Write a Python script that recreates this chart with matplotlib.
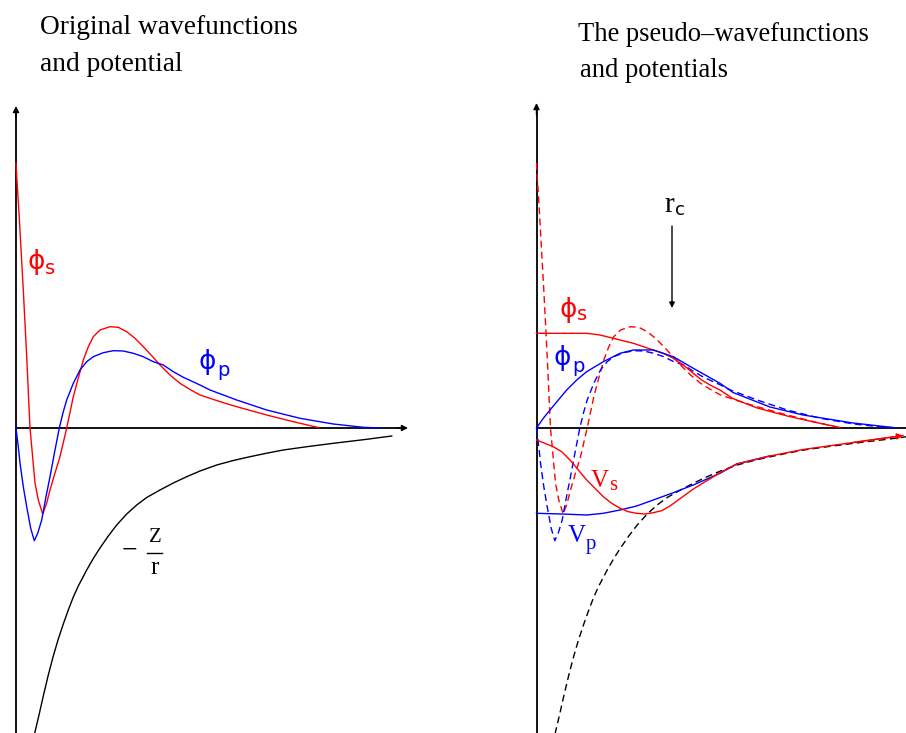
import matplotlib
matplotlib.use("Agg")
import matplotlib.pyplot as plt

# ---------------------------------------------------------------
# Curve samples (r, value) in arbitrary schematic units.
# r = 0 is the nucleus; value = 0 is the r axis.
# ---------------------------------------------------------------

# All-electron (original) radial functions
r_phi_s = [0, 0.8, 3, 7.3, 10.7, 14, 19, 22.3, 26.7, 30.7, 34, 39, 44, 50.7,
           57.3, 62.3, 67.3, 72.3, 77.3, 84, 94, 102.3, 110.7, 119, 127.3,
           135.7, 144, 154, 164, 174, 184, 194, 207.3, 220.7, 250.7, 277.3,
           302.3]
v_phi_s = [265, 250, 215, 138, 71.3, 0, -55, -72, -86, -75, -62, -45, -28.7,
           0, 31.3, 50, 68, 81.3, 91.3, 98, 101.3, 100.7, 96.3, 89.7, 81.3,
           72.3, 63, 53, 44.7, 38.5, 33, 29.7, 25.3, 21.3, 13, 6.3,
           0.5]

r_phi_p = [0, 2.3, 4, 7.3, 10.7, 14.7, 18.3, 21.7, 25.7, 29.7, 34, 39, 43.3,
           47.3, 50.7, 57.3, 64, 70.7, 77.3, 87.3, 97.3, 107.3, 117.3, 127.3,
           137.3, 147.3, 157.3, 167.3, 184, 194, 220.7, 250.7, 284, 317.3,
           347.3, 364]
v_phi_p = [0, -18.7, -35, -58.7, -78.7, -100.3, -112.7, -105.3, -92, -70.3,
           -48.7, -22, 0, 16.3, 28, 44.7, 58, 66.3, 71.3, 75.3, 77.3, 77, 74.7,
           71.3, 66.3, 63, 56.3, 50.7, 43, 38, 28, 18, 9.7, 4,
           0.7, 0]

# bare Coulomb potential -Z/r
r_coul = [18.5, 23, 27.3, 32.3, 37.3, 42.3, 47.3, 52.3, 57.3, 62.3, 70.7,
          77.3, 84, 92.3, 100.7, 110.7, 120.7, 130.7, 144, 157.3, 170.7, 184,
          200.7, 217.3, 234, 250.7, 267.3, 292.3, 317.3, 350.7, 375.7]
v_coul = [-306, -287, -268, -247, -228, -211, -196, -182, -169, -158, -142,
          -130.5, -120, -108, -97, -86, -77, -69.5, -62, -55, -48.7, -43,
          -37, -32.5, -28.7, -25.2, -22, -18.5, -15.3, -11.3, -8]

# Pseudo-wavefunctions
r_ps_s = [0, 25, 50.2, 63.5, 76.8, 96.8, 116.8, 126.8, 136.8, 146.8, 156.8,
          165.2, 173.5, 183.5, 196.5, 220.7, 250.7, 277.3, 303.5]
v_ps_s = [94.7, 94.7, 94.7, 93, 89.7, 84.7, 78, 74.7, 69.7, 63, 54.7,
          48, 43, 38, 29.4, 20, 12, 6, 0.5]

r_ps_p = [0, 6.8, 13.5, 21.8, 30.2, 40.2, 50.2, 66.8, 83.5, 96.8, 116.8,
          136.8, 156.8, 183.5, 196.5, 233.5, 266.5, 316.5, 356.5]
v_ps_p = [0, 9.7, 18, 28, 38, 48, 56.3, 66.3, 74.7, 78, 78,
          71.3, 59.7, 44.7, 35.5, 21, 13, 5, 0.5]

# Pseudopotentials
r_vs = [0, 16.8, 25.2, 33.5, 41.8, 50.2, 58.5, 66.8, 75.2, 83.5, 91.8, 100.2,
        108.5, 116.8, 125.2, 133.5, 156.8, 183.5, 200.2, 233.5, 266.5, 316.5,
        366.5]
v_vs = [-12, -18.7, -23.7, -32, -42, -52, -60.3, -68.7, -75.3, -80.3, -83.7,
        -85.3, -86, -84.7, -82.7, -78, -61, -44.7, -36, -28, -21.5, -14.5,
        -7.5]

r_vp = [0, 25, 50.2, 66.8, 83.5, 100.2, 116.8, 136.8, 156.8, 183.5, 200.2, 233.5]
v_vp = [-85.3, -86, -87, -85.3, -82, -78, -72, -64.7, -57, -45.3, -36, -27.8]

r_cut = 135.5  # cutoff radius marked by the arrow

RED = "#ff0000"
BLUE = "#0000ff"
SERIF = "Liberation Serif"
SANS = "DejaVu Sans"

W, H = 906, 733
fig = plt.figure(figsize=(W / 100, H / 100), dpi=100)
fig.patch.set_facecolor("white")

Y_LO, Y_HI = -305, 428


def make_axes(left_px, width_px, origin_px):
    ax = fig.add_axes([left_px / W, 0, width_px / W, 1])
    ax.set_xlim(left_px - origin_px, left_px + width_px - origin_px)
    ax.set_ylim(Y_LO, Y_HI)
    ax.axis("off")
    return ax


def draw_axes_lines(ax, y_top, x_end, x_arrow=True):
    ax.plot([0, 0], [Y_LO, y_top], color="black", lw=1.3, solid_capstyle="butt")
    ax.annotate("", xy=(0, y_top + 4), xytext=(0, y_top - 8),
                arrowprops=dict(arrowstyle="-|>", color="black", lw=1.0,
                                mutation_scale=9, shrinkA=0, shrinkB=0))
    ax.plot([0, x_end], [0, 0], color="black", lw=1.3, solid_capstyle="butt")
    if x_arrow:
        ax.annotate("", xy=(x_end + 4, 0), xytext=(x_end - 8, 0),
                    arrowprops=dict(arrowstyle="-|>", color="black", lw=1.0,
                                    mutation_scale=9, shrinkA=0, shrinkB=0))


def sub_label(ax, x, y, base, sub, color, base_font, sub_font, bsize, ssize,
              dx, dy):
    ax.text(x, y, base, color=color, family=base_font, fontsize=bsize,
            ha="center", va="center")
    ax.text(x + dx, y + dy, sub, color=color, family=sub_font, fontsize=ssize,
            ha="center", va="center")


# ---------------- left panel: original functions ----------------
axL = make_axes(0, 453, 16)
draw_axes_lines(axL, 318, 388)
axL.plot(r_phi_s, v_phi_s, color=RED, lw=1.0)
axL.plot(r_phi_p, v_phi_p, color=BLUE, lw=1.0)
axL.plot(r_coul, v_coul, color="black", lw=1.0)

sub_label(axL, 20, 166, "ϕ", "s", RED, SANS, SANS, 19, 14, 14, -6)
sub_label(axL, 191, 66, "ϕ", "p", BLUE, SANS, SANS, 19, 14, 16, -9)

# -Z/r label
axL.text(113, -123, "\u2212", family=SERIF, fontsize=20, ha="center", va="center")
axL.text(139, -110, "Z", family=SERIF, fontsize=15, ha="center", va="center")
axL.plot([131, 146], [-125, -125], color="black", lw=1.0)
axL.text(139, -140, "r", family=SERIF, fontsize=18, ha="center", va="center")

# ---------------- right panel: pseudo functions ----------------
axR = make_axes(453, 453, 536.5)
draw_axes_lines(axR, 321, 369.5, x_arrow=False)

dash = dict(lw=1.0, dashes=(5, 3))
axR.plot(r_phi_s, v_phi_s, color=RED, **dash)
axR.plot(r_phi_p, v_phi_p, color=BLUE, **dash)
axR.plot(r_coul, v_coul, color="black", **dash)

axR.plot(r_ps_s, v_ps_s, color=RED, lw=1.0)
axR.plot(r_ps_p, v_ps_p, color=BLUE, lw=1.0)
axR.plot(r_vp, v_vp, color=BLUE, lw=1.0)
axR.plot(r_vs, v_vs, color=RED, lw=1.0)
axR.annotate("", xy=(r_vs[-1], v_vs[-1]), xytext=(r_vs[-2], v_vs[-2]),
             arrowprops=dict(arrowstyle="-|>", color=RED, lw=1.0,
                             mutation_scale=9, shrinkA=0, shrinkB=0))

sub_label(axR, 32, 118, "ϕ", "s", RED, SANS, SANS, 19, 14, 14, -5)
sub_label(axR, 26, 70, "ϕ", "p", BLUE, SANS, SANS, 19, 14, 16, -9)
sub_label(axR, 63, -53, "V", "s", RED, SERIF, SERIF, 18, 15, 14, -5)
sub_label(axR, 40, -108, "V", "p", BLUE, SERIF, SERIF, 18, 15, 14, -9)

# cutoff radius marker
axR.text(r_cut - 3, 223, "r", family=SERIF, fontsize=21, ha="center", va="center")
axR.text(r_cut + 8, 218, "c", family=SANS, fontsize=13, ha="center", va="center")
axR.annotate("", xy=(r_cut, 120), xytext=(r_cut, 202),
             arrowprops=dict(arrowstyle="-|>", color="black", lw=1.0,
                             mutation_scale=8, shrinkA=0, shrinkB=0))

# ---------------- panel headings ----------------
def fig_text(px, py, s, size):
    fig.text(px / W, 1 - py / H, s, family=SERIF, fontsize=size,
             ha="left", va="baseline")

fig_text(40, 34, "Original wavefunctions", 19.7)
fig_text(40, 71, "and potential", 19.7)
fig_text(578, 41, "The pseudo\u2013wavefunctions", 19.1)
fig_text(580, 77, "and potentials", 19.1)

fig.savefig("out.png", dpi=100, facecolor="white")
